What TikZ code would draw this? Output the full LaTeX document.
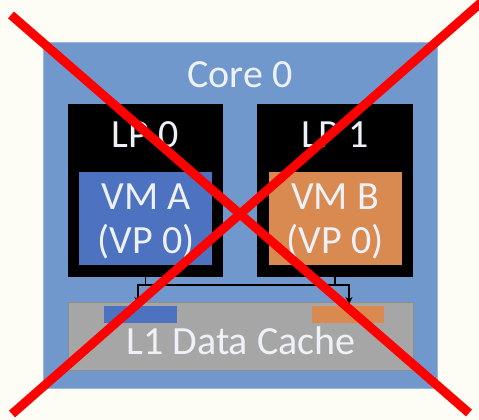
\documentclass[tikz,border=0pt]{standalone}
\usepackage{fontspec}
\setmainfont{Carlito}
\usetikzlibrary{arrows.meta}
\definecolor{paper}{HTML}{FDFDF6}
\definecolor{corefill}{HTML}{7198CD}
\definecolor{vmblue}{HTML}{4C72C0}
\definecolor{vmorange}{HTML}{D98A50}
\definecolor{cachegray}{HTML}{A6A6A6}
\definecolor{label}{HTML}{EEF2F8}
\tikzset{
  box/.style={anchor=north west, inner sep=0pt, outer sep=0pt},
  caption/.style={anchor=base, inner sep=0pt, text=label,
    font=\fontsize{40}{48}\selectfont},
  link/.style={draw=black, line width=1.6pt, -{Stealth[length=7pt,width=7pt]}},
  strike/.style={draw=red, line width=9pt}
}
\begin{document}
\begin{tikzpicture}[x=1pt,y=-1pt]
  \useasboundingbox[fill=paper] (0,0) rectangle (479,420);

  % core outline
  \node[box, fill=corefill, draw=corefill!70!white, line width=1pt,
        minimum width=394pt, minimum height=345pt] (core) at (43,43) {};
  \node[caption] (coretitle) at (240,87) {Core 0};

  % logical processors
  \node[box, fill=black, minimum width=155pt, minimum height=173pt] (lp0) at (68,104) {};
  \node[box, fill=black, minimum width=156pt, minimum height=173pt] (lp1) at (257,104) {};
  \node[caption] (lp0title) at (145,147) {LP 0};
  \node[caption] (lp1title) at (335,147) {LP 1};

  % virtual machines
  \node[box, fill=vmblue, minimum width=133pt, minimum height=93pt] (vma) at (79,172) {};
  \node[box, fill=vmorange, minimum width=133pt, minimum height=93pt] (vmb) at (269,172) {};
  \node[caption] (vmaname) at (146,209) {VM A};
  \node[caption] (vmavp) at (146,253) {(VP 0)};
  \node[caption] (vmbname) at (335,209) {VM B};
  \node[caption] (vmbvp) at (335,253) {(VP 0)};

  % shared L1 data cache
  \node[box, fill=cachegray, draw=cachegray!85!black, line width=0.6pt,
        minimum width=345pt, minimum height=68pt] (cache) at (68,302) {};
  \node[box, fill=vmblue, minimum width=73pt, minimum height=17pt] (slota) at (104,306) {};
  \node[box, fill=vmorange, minimum width=72pt, minimum height=17pt] (slotb) at (312,306) {};
  \node[caption] (cachetitle) at (241,354) {L1 Data Cache};

  % crossing paths into the cache
  \coordinate (jr) at (349,285);
  \coordinate (jl) at (138,285);
  \draw[link] (lp0.south) |- (jr) -- ([yshift=-2pt]jr |- cache.north);
  \draw[link] (lp1.south) |- (jl) -- ([yshift=-2pt]jl |- cache.north);

  % strike-through cross
  \coordinate (x1) at (11,15);
  \coordinate (x2) at (469,413);
  \coordinate (x3) at (12,414);
  \coordinate (x4) at (484,0);
  \draw[strike] (x1) -- (x2);
  \draw[strike] (x3) -- (x4);
\end{tikzpicture}
\end{document}
